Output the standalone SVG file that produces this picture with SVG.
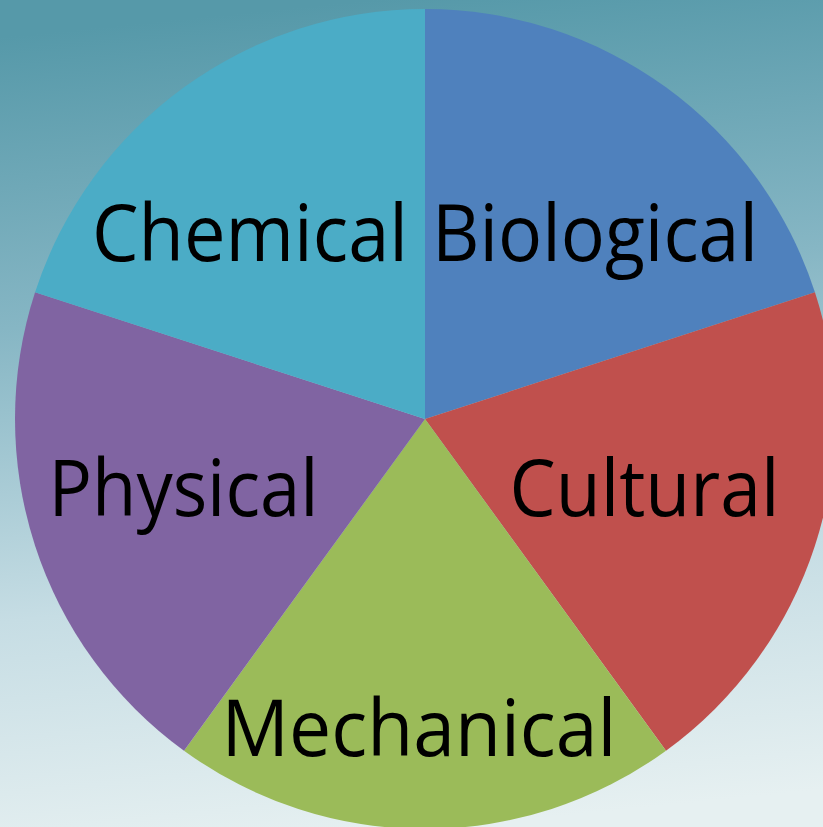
<svg xmlns="http://www.w3.org/2000/svg" width="823" height="827" viewBox="0 0 823 827">
<defs>
<linearGradient id="bg" x1="0.45" y1="0" x2="0.55" y2="1">
<stop offset="0" stop-color="#5699A9"/>
<stop offset="0.35" stop-color="#86B6C4"/>
<stop offset="0.7" stop-color="#C6DDE4"/>
<stop offset="1" stop-color="#E6F0F1"/>
</linearGradient>
<style>
.lbl{font-family:"Open Sans","Noto Sans","Liberation Sans",sans-serif;font-size:79px;fill:#000;text-anchor:middle}
</style>
</defs>
<rect x="0" y="0" width="823" height="827" fill="url(#bg)"/>
<g id="biological">
<path d="M425,419 L425,9 A410,410 0 0 1 814.93,292.30 Z" fill="#4F81BD"/>
<text class="lbl" x="595" y="261" textLength="326" lengthAdjust="spacingAndGlyphs">Biological</text>
</g>
<g id="cultural">
<path d="M425,419 L814.93,292.30 A410,410 0 0 1 665.99,750.70 Z" fill="#C0504D"/>
<text class="lbl" x="644.5" y="516" textLength="270" lengthAdjust="spacingAndGlyphs">Cultural</text>
</g>
<g id="mechanical">
<path d="M425,419 L665.99,750.70 A410,410 0 0 1 184.01,750.70 Z" fill="#9BBB59"/>
<text class="lbl" x="419" y="756" textLength="395" lengthAdjust="spacingAndGlyphs">Mechanical</text>
</g>
<g id="physical">
<path d="M425,419 L184.01,750.70 A410,410 0 0 1 35.07,292.30 Z" fill="#8064A2"/>
<text class="lbl" x="183.5" y="516" textLength="270" lengthAdjust="spacingAndGlyphs">Physical</text>
</g>
<g id="chemical">
<path d="M425,419 L35.07,292.30 A410,410 0 0 1 425,9 Z" fill="#4BACC6"/>
<text class="lbl" x="250" y="261" textLength="316" lengthAdjust="spacingAndGlyphs">Chemical</text>
</g>
<g id="connectors"/>
</svg>
